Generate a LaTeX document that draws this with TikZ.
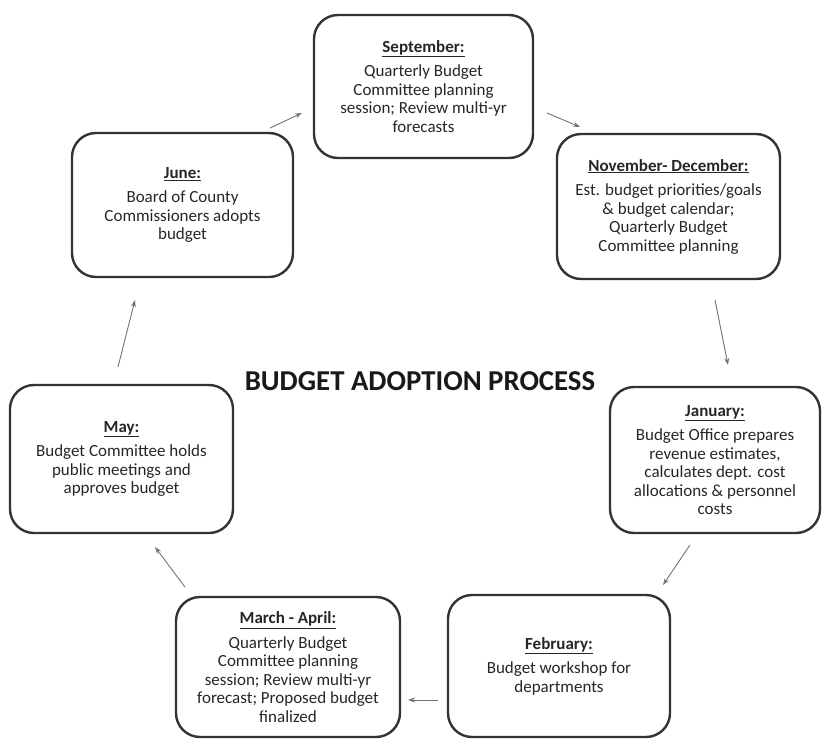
\documentclass[tikz,border=0pt]{standalone}
\usepackage{fontspec}
\setmainfont{Carlito}
\usetikzlibrary{arrows.meta, positioning}

\begin{document}
\begin{tikzpicture}[
    x=1pt, y=-1pt, % pixel-like units, y pointing down
    stage/.style={
        draw=black!80, line width=2.4pt, rounded corners=24pt,
        align=center, inner sep=0pt, outer sep=0pt,
        font=\fontsize{17}{18.5}\selectfont, text=black!85
    },
    flow/.style={-{Stealth[length=7pt, width=5pt]}, black!55, line width=0.9pt},
    headline/.style={font=\fontsize{28.8}{30}\selectfont\bfseries, text=black!90}
]

% Month heading
\def\hdr#1{\underline{\textbf{#1}}\\[6pt]}

\useasboundingbox (0,0) rectangle (822,739);

% Stages of the cycle
\node[stage, minimum width=219, minimum height=143] (sept) at (423.5,86.5)
    {\hdr{September:}Quarterly Budget\\Committee planning\\session; Review multi-yr\\forecasts};
\node[stage, minimum width=223, minimum height=145] (nov) at (668.5,206.5)
    {\hdr{November- December:}Est. budget priorities/goals\\\& budget calendar;\\Quarterly Budget\\Committee planning};
\node[stage, minimum width=210, minimum height=146] (jan) at (715,460)
    {\hdr{January:}Budget Office prepares\\revenue estimates,\\calculates dept. cost\\allocations \& personnel\\costs};
\node[stage, minimum width=222, minimum height=142] (feb) at (559,666)
    {\hdr{February:}Budget workshop for\\departments};
\node[stage, minimum width=224, minimum height=140] (mar) at (288,667)
    {\hdr{March - April:}Quarterly Budget\\Committee planning\\session; Review multi-yr\\forecast; Proposed budget\\finalized};
\node[stage, minimum width=223, minimum height=148] (may) at (121.5,459)
    {\hdr{May:}Budget Committee holds\\public meetings and\\approves budget};
\node[stage, minimum width=221, minimum height=144] (june) at (182.5,205)
    {\hdr{June:}Board of County\\Commissioners adopts\\budget};

% Title
\node[headline] (title) at (420,381.5) {BUDGET ADOPTION PROCESS};

% Arrows between stages
\draw[flow] ([shift={(-23,-5)}]june.north east) -- ([shift={(-12,26.5)}]sept.west);
\draw[flow] ([shift={(14,26.5)}]sept.east) -- ([shift={(23,-7)}]nov.north west);
\draw[flow] ([shift={(46.5,21)}]nov.south) -- ([shift={(13,-22)}]jan.north);
\draw[flow] ([shift={(-25,12)}]jan.south) -- ([shift={(-7,-10)}]feb.north east);
\draw[flow] ([shift={(-10,34)}]feb.west) -- ([shift={(8,33)}]mar.east);
\draw[flow] ([shift={(9,-10)}]mar.north west) -- ([shift={(33.5,14)}]may.south);
\draw[flow] ([shift={(-3.5,-18)}]may.north) -- ([shift={(-47.5,23)}]june.south);

\end{tikzpicture}
\end{document}
